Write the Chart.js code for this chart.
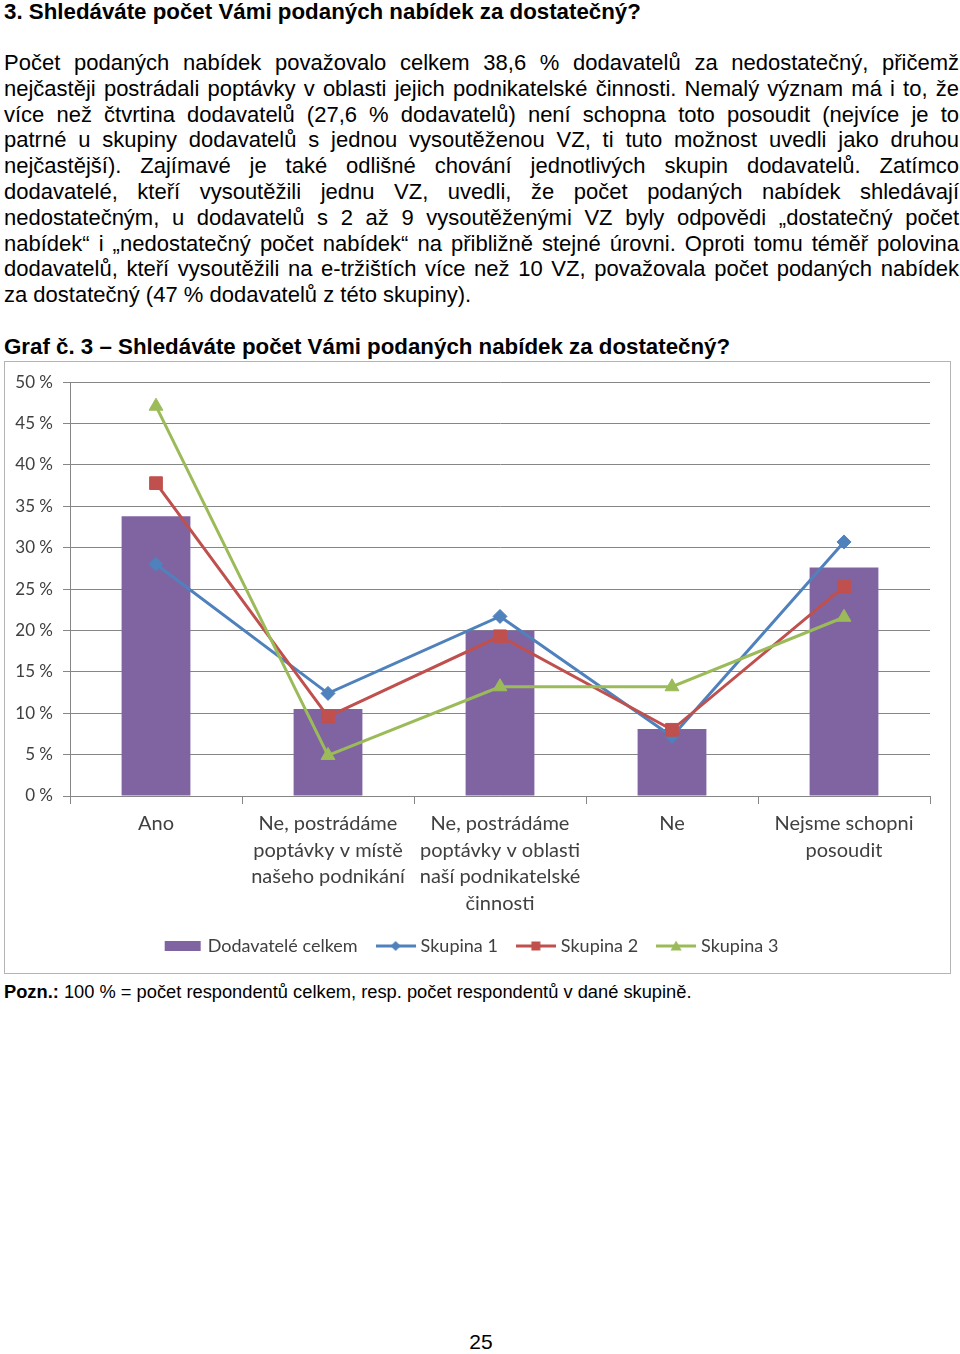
<!DOCTYPE html>
<html lang="cs">
<head>
<meta charset="utf-8">
<script src="https://cdn.jsdelivr.net/npm/chart.js@4"></script>
<style>
  body { margin: 0; width: 960px; height: 1354px; position: relative; background: #fff;
         font-family: "Liberation Sans", Arial, sans-serif; color: #000; }
  .h { position: absolute; left: 4px; font-size: 22.3px; font-weight: bold; line-height: 24px; white-space: nowrap; }
  .p { position: absolute; left: 4px; width: 955px; font-size: 22px; line-height: 25.8px; }
  .p div { text-align: justify; text-align-last: justify; }
  .p div.last { text-align-last: left; }
  .box { position: absolute; left: 4px; top: 361px; width: 947px; height: 613px;
         border: 1px solid #b4b4b4; box-sizing: border-box; }
  .note { position: absolute; left: 4px; top: 982px; font-size: 18.3px; line-height: 20px; white-space: nowrap; }
  .num { position: absolute; left: 0; width: 962px; top: 1330px; text-align: center; font-size: 21px; }
</style>
</head>
<body>
<div class="h" style="top:0px">3. Shledáváte počet Vámi podaných nabídek za dostatečný?</div>
<div class="p" style="top:50px">
  <div>Počet podaných nabídek považovalo celkem 38,6 % dodavatelů za nedostatečný, přičemž</div>
  <div>nejčastěji postrádali poptávky v oblasti jejich podnikatelské činnosti. Nemalý význam má i to, že</div>
  <div>více než čtvrtina dodavatelů (27,6 % dodavatelů) není schopna toto posoudit (nejvíce je to</div>
  <div>patrné u skupiny dodavatelů s&nbsp;jednou vysoutěženou VZ, ti tuto možnost uvedli jako druhou</div>
  <div>nejčastější). Zajímavé je také odlišné chování jednotlivých skupin dodavatelů. Zatímco</div>
  <div>dodavatelé, kteří vysoutěžili jednu VZ, uvedli, že počet podaných nabídek shledávají</div>
  <div>nedostatečným, u dodavatelů s&nbsp;2 až 9 vysoutěženými VZ byly odpovědi „dostatečný počet</div>
  <div>nabídek“ i „nedostatečný počet nabídek“ na přibližně stejné úrovni. Oproti tomu téměř polovina</div>
  <div>dodavatelů, kteří vysoutěžili na e-tržištích více než 10 VZ, považovala počet podaných nabídek</div>
  <div class="last">za dostatečný (47 % dodavatelů z této skupiny).</div>
</div>
<div class="h" style="top:335px">Graf č. 3 – Shledáváte počet Vámi podaných nabídek za dostatečný?</div>
<div class="box"><canvas id="graf3" width="945" height="611"></canvas></div>
<div class="note"><b>Pozn.:</b> 100 % = počet respondentů celkem, resp. počet respondentů v dané skupině.</div>
<div class="num">25</div>

<script>
// hodnoty (v %)
const kategorie = [
    'Ano',
    ['Ne, postrádáme', 'poptávky v místě', 'našeho podnikání'],
    ['Ne, postrádáme', 'poptávky v oblasti', 'naší podnikatelské', 'činnosti'],
    'Ne',
    ['Nejsme schopni', 'posoudit']
];
const celkem = [33.8, 10.5, 20.0, 8.1, 27.6];
const skupina1 = [28.0, 12.4, 21.7, 7.2, 30.7];
const skupina2 = [37.8, 9.6, 19.3, 8.0, 25.3];
const skupina3 = [47.1, 4.9, 13.2, 13.2, 21.6];
const nazvy = ['Dodavatelé celkem', 'Skupina 1', 'Skupina 2', 'Skupina 3'];
const osaY = [0, 50, 5];

const fialova = '#8064A2';
const modra = '#4F81BD';
const cervena = '#C0504D';
const zelena = '#9BBB59';
const seda = '#868686';
const pismo = '"Lato", "Open Sans", sans-serif';

// obrázek do legendy: čára se značkou
function legendImg(barva, styl) {
    const c = document.createElement('canvas');
    c.width = 40;
    c.height = 16;
    const g = c.getContext('2d');
    g.fillStyle = barva;
    if (styl === 'bar') {
        g.fillRect(2, 3, 36, 10);
        return c;
    }
    g.strokeStyle = barva;
    g.lineWidth = 3;
    g.beginPath();
    g.moveTo(0, 8);
    g.lineTo(40, 8);
    g.stroke();
    g.beginPath();
    if (styl === 'rectRot') {
        g.moveTo(20, 3); g.lineTo(25, 8); g.lineTo(20, 13); g.lineTo(15, 8);
    } else if (styl === 'rect') {
        g.rect(15.5, 3.5, 9, 9);
    } else {
        g.moveTo(20, 2.5); g.lineTo(25.5, 12.5); g.lineTo(14.5, 12.5);
    }
    g.closePath();
    g.fill();
    return c;
}

function lineSet(label, data, barva, styl, radius, poradi) {
    return {
        type: 'line',
        label: label,
        data: data,
        borderColor: barva,
        backgroundColor: barva,
        borderWidth: 3,
        pointStyle: styl,
        pointRadius: radius,
        pointHoverRadius: radius,
        pointBackgroundColor: barva,
        pointBorderColor: barva,
        pointBorderWidth: 1,
        tension: 0,
        order: poradi,
        legendImage: legendImg(barva, styl)
    };
}

const ctx = document.getElementById('graf3').getContext('2d');
new Chart(ctx, {
    type: 'bar',
    data: {
        labels: kategorie,
        datasets: [
            {
                type: 'bar',
                label: nazvy[0],
                data: celkem,
                backgroundColor: fialova,
                barPercentage: 0.4,
                categoryPercentage: 1,
                order: 4,
                legendImage: legendImg(fialova, 'bar')
            },
            lineSet(nazvy[1], skupina1, modra, 'rectRot', 7, 3),
            lineSet(nazvy[2], skupina2, cervena, 'rect', 9, 2),
            lineSet(nazvy[3], skupina3, zelena, 'triangle', 8, 1)
        ]
    },
    options: {
        responsive: false,
        animation: false,
        layout: {
            padding: { left: 10, top: 16, right: 20, bottom: 8 }
        },
        plugins: {
            tooltip: { enabled: false },
            legend: {
                position: 'bottom',
                labels: {
                    usePointStyle: true,
                    pointStyleWidth: 32,
                    padding: 22,
                    color: '#404040',
                    font: { family: pismo, size: 18 },
                    generateLabels: function (chart) {
                        return chart.data.datasets.map((ds, i) => ({
                            text: ds.label,
                            pointStyle: ds.legendImage,
                            fillStyle: 'transparent',
                            strokeStyle: 'transparent',
                            lineWidth: 0,
                            fontColor: '#404040',
                            datasetIndex: i
                        }));
                    }
                }
            }
        },
        scales: {
            x: {
                afterFit: function (scale) { scale.height = 119; },
                grid: {
                    offset: true,
                    drawOnChartArea: false,
                    drawTicks: true,
                    tickLength: 8,
                    color: seda
                },
                border: { display: true, color: seda },
                ticks: {
                    color: '#404040',
                    font: { family: pismo, size: 20, lineHeight: 1.34 },
                    padding: 6,
                    maxRotation: 0,
                    autoSkip: false
                }
            },
            y: {
                min: osaY[0],
                max: osaY[1],
                afterFit: function (scale) { scale.width = 55; },
                grid: { color: seda, tickLength: 7, drawTicks: true },
                border: { display: true, color: seda },
                ticks: {
                    stepSize: osaY[2],
                    color: '#404040',
                    font: { family: pismo, size: 17 },
                    padding: 10,
                    callback: v => v + ' %'
                }
            }
        }
    }
});
</script>
</body>
</html>
